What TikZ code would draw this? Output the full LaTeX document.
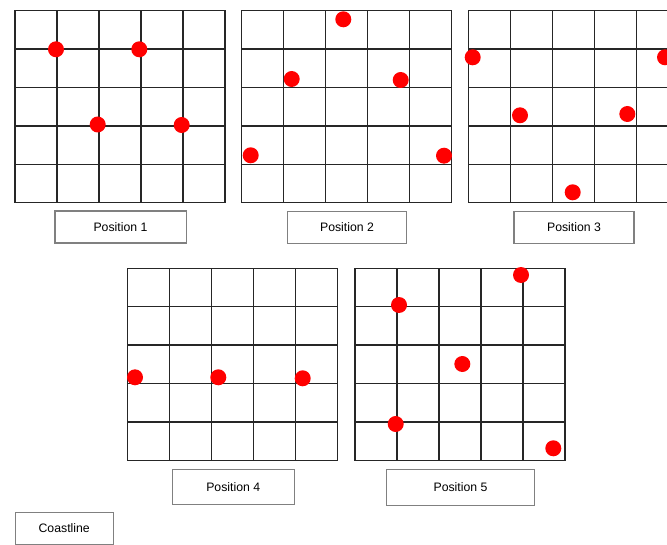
\documentclass[tikz,border=0pt]{standalone}
\usepackage{fontspec}
\setmainfont{Liberation Sans}
\begin{document}
\begin{tikzpicture}[x=0.75pt,y=-0.75pt,
  gridline/.style={draw=black!85,line width=1.1pt},
  dot/.style={circle,fill=red,inner sep=0pt,minimum size=12pt},
  lbl/.style={draw=black!50,line width=0.8pt,fill=white,inner sep=0pt,font=\fontsize{9.2}{11}\selectfont},
  grid5/.pic={
    \draw[gridline] (0,0) rectangle (210,192);
    \foreach \i in {1,...,4}{
      \draw[gridline] (\i*42,0) -- (\i*42,192);
      \draw[gridline] (0,\i*38.4) -- (210,\i*38.4);
    }
  }]
\useasboundingbox (0,0) rectangle (667,545);
\fill[white] (0,0) rectangle (667,545);
\clip (0,0) rectangle (667,545);
% grids
\pic at (15,10.7) {grid5};
\pic at (241.7,10.7) {grid5};
\pic at (468.3,10.7) {grid5};
\pic at (127.7,268.3) {grid5};
\pic at (355,268.3) {grid5};
% position 1 dots
\node[dot] (a1) at (56,49.3) {};
\node[dot] (a2) at (139.3,49.3) {};
\node[dot] (a3) at (97.7,124.5) {};
\node[dot] (a4) at (181.7,125) {};
% position 2 dots
\node[dot] (b1) at (343.3,19.3) {};
\node[dot] (b2) at (291.7,79) {};
\node[dot] (b3) at (400.7,80) {};
\node[dot] (b4) at (250.7,155.3) {};
\node[dot] (b5) at (444,155.7) {};
% position 3 dots
\node[dot] (c1) at (472.7,57.3) {};
\node[dot] (c2) at (665,57.3) {};
\node[dot] (c3) at (520,115.3) {};
\node[dot] (c4) at (627.3,114) {};
\node[dot] (c5) at (572.7,192.3) {};
% position 4 dots
\node[dot] (d1) at (135,377.3) {};
\node[dot] (d2) at (218.3,377.3) {};
\node[dot] (d3) at (302.7,378.3) {};
% position 5 dots
\node[dot] (e1) at (521,275) {};
\node[dot] (e2) at (399,305) {};
\node[dot] (e3) at (462.3,364) {};
\node[dot] (e4) at (395.7,424) {};
\node[dot] (e5) at (553.3,448.3) {};
% labels
\node[lbl,minimum width=98.3pt,minimum height=24pt] (p1) at (120.5,227) {Position 1};
\node[lbl,minimum width=89.6pt,minimum height=24.2pt] (p2) at (347,227.2) {Position 2};
\node[lbl,minimum width=90pt,minimum height=23.7pt] (p3) at (574,227.5) {Position 3};
\node[lbl,minimum width=91.3pt,minimum height=26pt] (p4) at (233.2,486.7) {Position 4};
\node[lbl,minimum width=110.7pt,minimum height=27.3pt] (p5) at (460.5,487.5) {Position 5};
\node[lbl,minimum width=73.7pt,minimum height=23.8pt] (coast) at (64.2,528.2) {Coastline};
\end{tikzpicture}
\end{document}
